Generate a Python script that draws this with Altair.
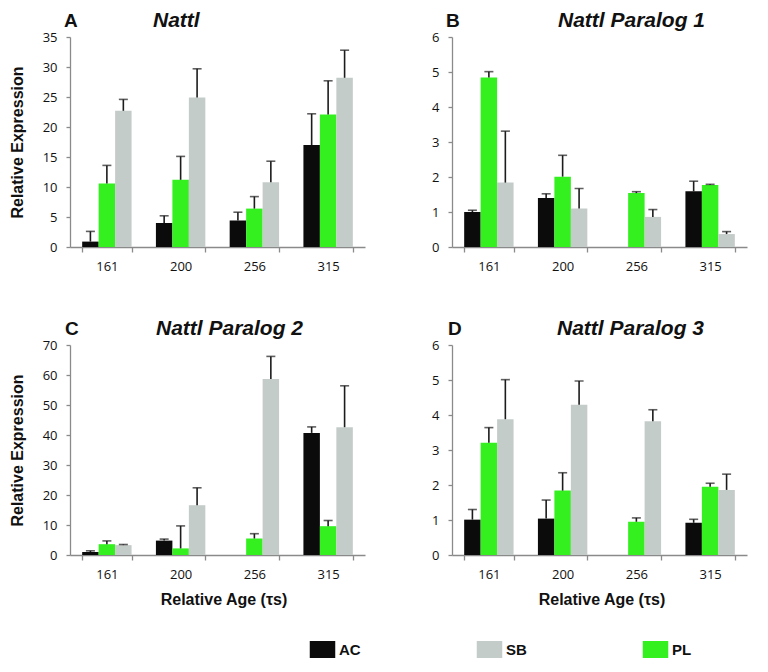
import altair as alt
import pandas as pd

ages = ["161", "200", "256", "315"]
groups_bar_order = ["AC", "PL", "SB"]
legend_order = ["AC", "SB", "PL"]
colors = ["#0b0b0b", "#c4ccc9", "#33f01e"]  # AC, SB, PL

# Panel A: Nattl
A_AC = [0.9, 4.0, 4.4, 17.0]
A_AC_err = [1.7, 1.2, 1.4, 5.2]
A_PL = [10.6, 11.2, 6.4, 22.1]
A_PL_err = [3.0, 3.9, 2.0, 5.6]
A_SB = [22.7, 24.9, 10.8, 28.2]
A_SB_err = [1.9, 4.8, 3.5, 4.6]

# Panel B: Nattl Paralog 1
B_AC = [1.0, 1.4, None, 1.59]
B_AC_err = [0.05, 0.12, None, 0.29]
B_PL = [4.84, 2.01, 1.54, 1.77]
B_PL_err = [0.17, 0.61, 0.04, 0.02]
B_SB = [1.84, 1.10, 0.86, 0.37]
B_SB_err = [1.47, 0.57, 0.21, 0.07]

# Panel C: Nattl Paralog 2
C_AC = [1.0, 4.8, None, 40.7]
C_AC_err = [0.4, 0.5, None, 2.0]
C_PL = [3.6, 2.2, 5.5, 9.6]
C_PL_err = [1.1, 7.5, 1.6, 1.9]
C_SB = [3.3, 16.6, 58.7, 42.6]
C_SB_err = [0.2, 5.8, 7.5, 13.8]

# Panel D: Nattl Paralog 3
D_AC = [1.01, 1.04, None, 0.92]
D_AC_err = [0.29, 0.53, None, 0.10]
D_PL = [3.21, 1.84, 0.95, 1.95]
D_PL_err = [0.43, 0.51, 0.11, 0.10]
D_SB = [3.88, 4.29, 3.82, 1.86]
D_SB_err = [1.13, 0.68, 0.33, 0.45]

panels = {
    "A": {"AC": (A_AC, A_AC_err), "PL": (A_PL, A_PL_err), "SB": (A_SB, A_SB_err)},
    "B": {"AC": (B_AC, B_AC_err), "PL": (B_PL, B_PL_err), "SB": (B_SB, B_SB_err)},
    "C": {"AC": (C_AC, C_AC_err), "PL": (C_PL, C_PL_err), "SB": (C_SB, C_SB_err)},
    "D": {"AC": (D_AC, D_AC_err), "PL": (D_PL, D_PL_err), "SB": (D_SB, D_SB_err)},
}

rows = []
for p, gd in panels.items():
    for g, (vals, errs) in gd.items():
        for a, v, e in zip(ages, vals, errs):
            if v is None:
                continue
            rows.append({"panel": p, "age": a, "group": g, "value": v, "top": v + e})
df = pd.DataFrame(rows)

AXIS_COLOR = "#8a8a8a"
LABEL_FONT = "Open Sans"
BOLD_FONT = "Liberation Sans"
W, H = 295, 210


def panel(key, title, ymax, ystep, title_dx, letter_dx, ytitle, xtitle, xtitle_shift=0):
    d = df[df.panel == key]
    base = alt.Chart(d)
    xaxis_kw = dict(
        labelAngle=0,
        tickBand="extent",
        tickSize=5,
        labelPadding=8,
        titlePadding=10,
    )
    if xtitle:
        xaxis_kw["title"] = xtitle
        xaxis_kw["titleX"] = W / 2 + xtitle_shift
    else:
        xaxis_kw["title"] = None
    x = alt.X(
        "age:N",
        sort=ages,
        scale=alt.Scale(paddingInner=0.33, paddingOuter=0.165),
        axis=alt.Axis(**xaxis_kw),
    )
    xo = alt.XOffset("group:N", sort=groups_bar_order, scale=alt.Scale(paddingInner=0, paddingOuter=0))
    yscale = alt.Scale(domain=[0, ymax], nice=False)
    yaxis = alt.Axis(
        title=ytitle if ytitle else None,
        values=list(range(0, ymax + 1, ystep)),
        tickSize=4,
        labelPadding=9,
        labelOverlap=False,
        grid=False,
        titlePadding=17,
    )
    bars = base.mark_bar().encode(
        x=x,
        xOffset=xo,
        y=alt.Y("value:Q", scale=yscale, axis=yaxis),
        color=alt.Color(
            "group:N",
            scale=alt.Scale(domain=legend_order, range=colors),
            legend=alt.Legend(
                title=None,
                orient="none",
                direction="horizontal",
                legendX=244,
                legendY=604,
                symbolType="M-1.5,-1H1.5V1H-1.5Z",
                symbolSize=289,
                symbolStrokeWidth=0,
                symbolOpacity=1,
                labelFont=BOLD_FONT,
                labelFontWeight="bold",
                labelFontSize=15,
                labelColor="#111111",
                labelOffset=8,
                columnPadding=115,
            ),
        ),
    )
    rule = base.mark_rule(color="#1c1c1c", strokeWidth=1.6).encode(
        x=x, xOffset=xo, y=alt.Y("value:Q", scale=yscale, axis=yaxis), y2="top:Q"
    )
    cap = base.mark_tick(color="#1c1c1c", thickness=1.6, size=9).encode(
        x=x, xOffset=xo, y=alt.Y("top:Q", scale=yscale, axis=yaxis)
    )
    labels = pd.DataFrame({"letter": [key], "name": [title]})
    letter = alt.Chart(labels).mark_text(
        font=BOLD_FONT, fontWeight="bold", fontSize=19, align="left", baseline="alphabetic", color="#111111"
    ).encode(text="letter:N", x=alt.value(letter_dx), y=alt.value(-10))
    name = alt.Chart(labels).mark_text(
        font=BOLD_FONT, fontWeight="bold", fontStyle="italic", fontSize=21, align="left",
        baseline="alphabetic", color="#111111"
    ).encode(text="name:N", x=alt.value(title_dx), y=alt.value(-10))
    return alt.layer(bars, rule, cap, letter, name).properties(width=W, height=H)


pA = panel("A", "Nattl", 35, 5, 83, -6, "Relative Expression", None)
pB = panel("B", "Nattl Paralog 1", 6, 1, 106, -6, None, None)
pC = panel("C", "Nattl Paralog 2", 70, 10, 86, -5, "Relative Expression", "Relative Age (τs)", 6)
pD = panel("D", "Nattl Paralog 3", 6, 1, 105, -4, None, "Relative Age (τs)", 2)

chart = alt.vconcat(
    alt.hconcat(pA, pB, spacing=66),
    alt.hconcat(pC, pD, spacing=66),
    spacing=45,
).configure(
    padding={"left": 1, "top": 2, "right": 5, "bottom": 5}
).configure_view(stroke=None).configure_axis(
    domainColor=AXIS_COLOR,
    tickColor=AXIS_COLOR,
    domainWidth=1.3,
    tickWidth=1.3,
    labelFont=LABEL_FONT,
    labelFontSize=13,
    labelColor="#111111",
    titleFont=BOLD_FONT,
    titleFontWeight="bold",
    titleFontSize=16,
    titleColor="#111111",
    grid=False,
)

chart.save("out.html", embed_options={"renderer": "svg", "actions": False})
